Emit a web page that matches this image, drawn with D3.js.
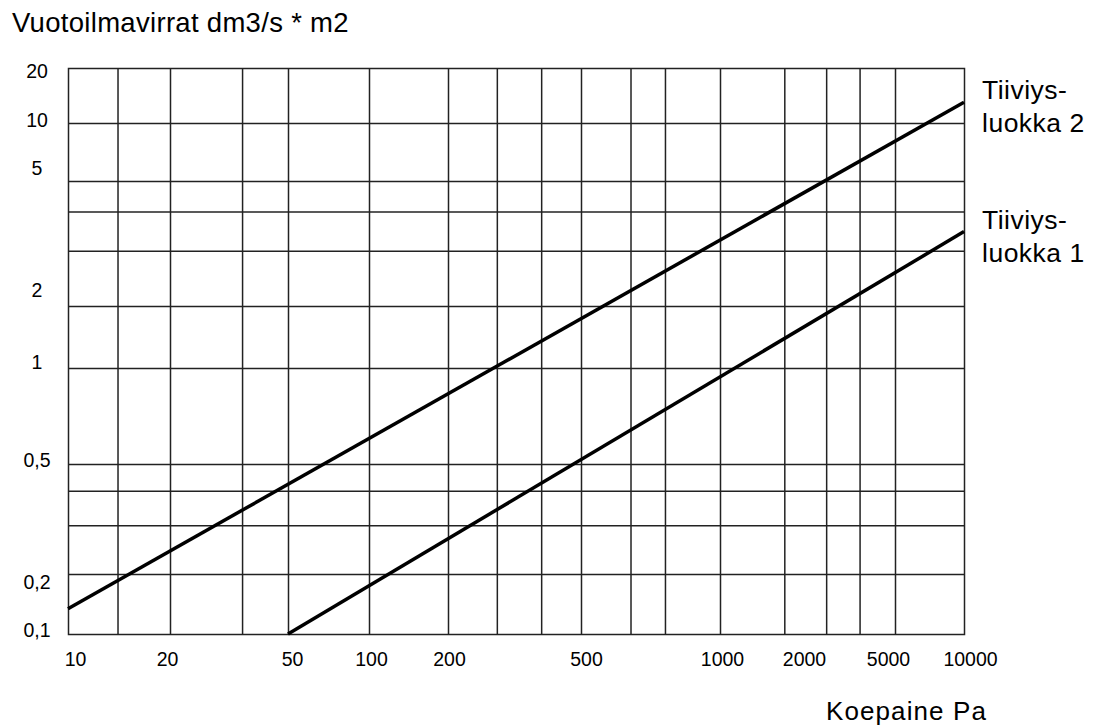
<!DOCTYPE html>
<html>
<head>
<meta charset="utf-8">
<script src="https://cdn.jsdelivr.net/npm/d3@7"></script>
<style>
  body { margin: 0; background: #fff; }
  text { font-family: "Liberation Sans", Arial, sans-serif; fill: #000; }
</style>
</head>
<body>
<div id="chart"></div>
<script>
//////////////////////////////////////
// DATA
const xTicks = [10, 20, 50, 100, 200, 500, 1000, 2000, 5000, 10000]; // Koepaine Pa
const xGrid = [14, 20, 35, 50, 100, 200, 280, 380, 500, 640, 760, 1000, 1700, 2500, 3500, 5000];
const yTicks = [0.1, 0.2, 0.5, 1, 2, 5, 10, 20]; // dm3/s * m2
const yGrid = [0.2, 0.3, 0.4, 0.5, 1, 2, 3, 4, 5, 10];

const classNames = ["luokka 2", "luokka 1"];
const pressure2 = [10, 10000];
const flow2 = [0.134, 13];
const pressure1 = [50, 10000];
const flow1 = [0.1, 3.45];

//////////////////////////////////////
// Dimensions
const W = 1099, H = 727;
const margin = {top: 68, left: 68};
const width = 896;
const height = 566;
const gridColor = "#222";

// the printed grid is not a regular log grid -> piecewise log scales
const xStops = [0, 102, 220, 301, 380, 513, 652, 736, 827, width];
const yStops = [height, 506, 396, 300, 238, 113, 55, 0];
// tick labels are not printed exactly on the grid lines either
const xLabelStops = [7, 99, 224, 303, 381, 518, 654, 736, 820, 902];
const yLabelStops = [562, 514, 392, 294, 222, 100, 52, 3];

const x = d3.scaleLog().domain(xTicks).range(xStops);
const y = d3.scaleLog().domain(yTicks).range(yStops);
const xLab = d3.scaleLog().domain(xTicks).range(xLabelStops);
const yLab = d3.scaleLog().domain(yTicks).range(yLabelStops);

const svg = d3.select("#chart")
  .append("svg")
    .attr("width", W)
    .attr("height", H);

const plot = svg.append("g")
    .attr("transform", `translate(${margin.left},${margin.top})`);

//////////////////////////////////////
// Grid
const vGrid = plot.append("g")
    .attr("transform", `translate(0,${height})`)
    .call(d3.axisBottom(x).tickValues(xGrid).tickSize(-height).tickFormat(""));
vGrid.select(".domain").remove();

const hGrid = plot.append("g")
    .call(d3.axisLeft(y).tickValues(yGrid).tickSize(-width).tickFormat(""));
hGrid.select(".domain").remove();

plot.selectAll(".tick line")
    .attr("stroke", gridColor)
    .attr("stroke-width", 1.5);

plot.append("rect")
    .attr("x", 0.5)
    .attr("y", 0.5)
    .attr("width", width)
    .attr("height", height)
    .attr("fill", "none")
    .attr("stroke", gridColor)
    .attr("stroke-width", 1.5);

//////////////////////////////////////
// Tick labels
const xAxis = plot.append("g")
    .attr("transform", `translate(0,${height})`)
    .call(d3.axisBottom(xLab).tickValues(xTicks).tickSize(0).tickPadding(18).tickFormat(d3.format("d")));
xAxis.select(".domain").remove();
xAxis.attr("font-size", 19.5);

const yAxis = svg.append("g")
    .attr("transform", `translate(37,${margin.top})`)
    .call(d3.axisLeft(yLab).tickValues(yTicks).tickSize(0).tickPadding(0)
      .tickFormat(d => String(d).replace(".", ",")));
yAxis.select(".domain").remove();
yAxis.attr("font-size", 19.5);
yAxis.selectAll("text").attr("text-anchor", "middle");

//////////////////////////////////////
// Lines
const line = d3.line()
    .x(d => x(d[0]))
    .y(d => y(d[1]));

const lines = [d3.zip(pressure2, flow2), d3.zip(pressure1, flow1)];

plot.selectAll(".luokka")
  .data(lines)
  .join("path")
    .attr("class", "luokka")
    .attr("d", line)
    .attr("fill", "none")
    .attr("stroke", "#000")
    .attr("stroke-width", 3.5);

// labels at the end of the lines
const labels = plot.selectAll(".lbl")
  .data(lines)
  .join("text")
    .attr("class", "lbl")
    .attr("x", width + 18)
    .attr("y", d => y(d[d.length - 1][1]) - 3)
    .attr("font-size", 26.5)
    .attr("letter-spacing", 0.5);
labels.append("tspan").text("Tiiviys-");
labels.append("tspan")
    .attr("x", width + 18)
    .attr("dy", 33)
    .text((d, i) => classNames[i]);

//////////////////////////////////////
// Titles
svg.append("text")
    .attr("x", 12)
    .attr("y", 32)
    .attr("font-size", 27.5)
    .attr("letter-spacing", 0.3)
    .text("Vuotoilmavirrat dm3/s * m2");

svg.append("text")
    .attr("x", 826)
    .attr("y", 720)
    .attr("font-size", 26)
    .attr("letter-spacing", 1.1)
    .text("Koepaine Pa");
</script>
</body>
</html>
